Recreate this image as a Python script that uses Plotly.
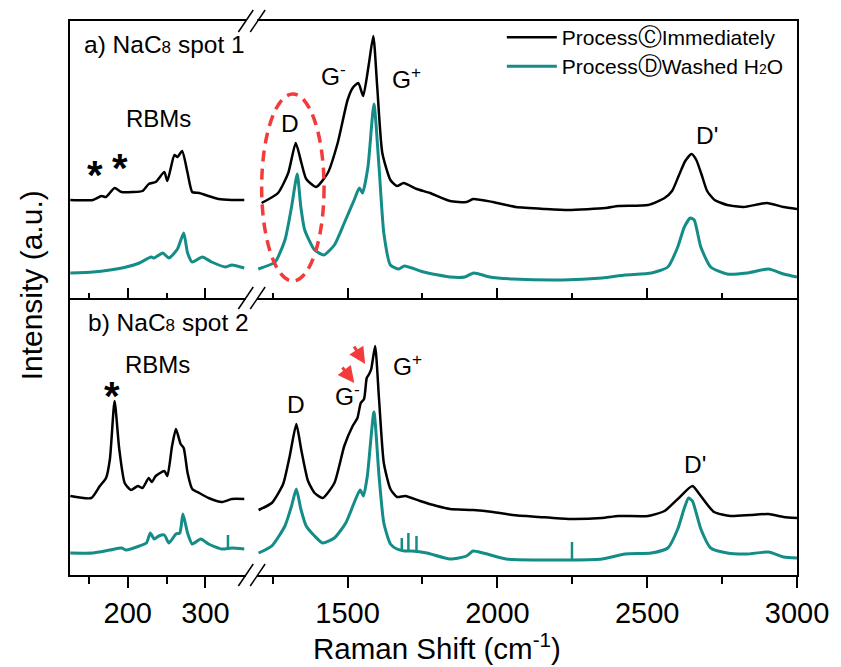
import plotly.graph_objects as go

# ---------------- data ----------------
# panel a, RBM window
a_rbm_k_x = [126, 155, 166, 172, 183, 192, 206, 219, 227, 236, 247, 251, 260, 264, 270, 277, 283, 292, 304, 317, 334, 350]
a_rbm_k_y = [98, 98, 102, 101, 110, 106, 106, 107, 114, 116, 126, 117, 143, 141, 147, 125, 106, 105, 102, 99, 98, 98]
a_rbm_t_x = [126, 155, 177, 198, 215, 230, 234, 245, 253, 264, 272, 277, 283, 296, 308, 326, 334, 350]
a_rbm_t_y = [25, 26, 28, 31, 35, 41, 40, 45, 40, 49, 65, 45, 36, 41, 36, 31, 33, 30]
# panel a, D/G/D' window
a_main_k_x = [1213, 1268, 1302, 1327, 1346, 1362, 1395, 1434, 1467, 1500, 1517, 1536, 1552, 1570, 1586, 1599, 1616,
              1643, 1665, 1687, 1731, 1775, 1842, 1897, 1919, 1985, 2062, 2161, 2238, 2360, 2404, 2503, 2558, 2583,
              2605, 2627, 2648, 2664, 2682, 2700, 2725, 2767, 2822, 2899, 2955, 3000]
a_main_k_y = [95, 105, 125, 155, 135, 119, 111, 125, 155, 198, 210, 215, 202, 232, 262, 211, 145,
              118, 112, 115, 109, 105, 97, 96, 99, 96, 91, 89, 88, 90, 92, 93, 100, 107,
              122, 137, 144, 138, 123, 107, 98, 93, 91, 95, 91, 89]
a_main_t_x = [1202, 1258, 1291, 1313, 1332, 1344, 1357, 1390, 1421, 1456, 1489, 1522, 1539, 1550, 1568, 1588, 1605,
              1621, 1643, 1671, 1690, 1754, 1842, 1891, 1921, 1974, 2051, 2216, 2349, 2426, 2514, 2569, 2602, 2624,
              2644, 2657, 2679, 2712, 2767, 2833, 2905, 2955, 3000]
a_main_t_y = [29, 36, 58, 91, 124, 91, 68, 48, 43, 53, 75, 98, 110, 105, 131, 194, 131,
              65, 33, 29, 32, 26, 21, 21, 25, 21, 19, 18, 20, 23, 25, 31, 51, 71,
              80, 78, 51, 31, 24, 25, 29, 24, 21]
# panel b, RBM window
b_rbm_k_x = [126, 153, 164, 172, 177, 183, 189, 196, 204, 213, 219, 227, 231, 236, 247, 251, 257, 262, 268, 272,
             277, 283, 292, 304, 321, 334, 350]
b_rbm_k_y = [79, 77, 89, 97, 116, 174, 126, 92, 85, 89, 87, 97, 93, 99, 104, 99, 129, 146, 131, 127,
             102, 86, 82, 77, 73, 76, 76]
b_rbm_t_x = [126, 155, 177, 192, 198, 215, 224, 229, 234, 240, 247, 253, 262, 267, 271, 277, 283, 294, 304, 321,
             334, 350]
b_rbm_t_y = [22, 22, 25, 27, 25, 29, 32, 42, 36, 39, 40, 32, 41, 42, 61, 42, 31, 36, 31, 26,
             27, 26]
# panel b, D/G/D' window
b_main_k_x = [1203, 1247, 1285, 1307, 1329, 1345, 1368, 1390, 1417, 1456, 1489, 1517, 1533, 1544, 1555, 1564, 1572,
              1579, 1592, 1605, 1621, 1643, 1665, 1693, 1742, 1798, 1842, 1919, 1985, 2051, 2139, 2238, 2349, 2404,
              2503, 2558, 2602, 2651, 2679, 2723, 2778, 2844, 2905, 2955, 3000]
b_main_k_y = [65, 72, 91, 119, 151, 126, 94, 82, 77, 92, 129, 149, 157, 172, 176, 197, 201,
              206, 229, 176, 112, 86, 78, 79, 74, 69, 66, 65, 63, 60, 58, 56, 57, 59,
              59, 64, 76, 89, 79, 63, 59, 60, 61, 58, 57]
b_main_t_x = [1203, 1247, 1291, 1313, 1329, 1344, 1362, 1390, 1417, 1456, 1494, 1527, 1542, 1553, 1566, 1588, 1605,
              1621, 1643, 1665, 1690, 1715, 1765, 1842, 1897, 1919, 1952, 2029, 2128, 2249, 2349, 2426, 2514,
              2569, 2602, 2624, 2638, 2651, 2679, 2712, 2767, 2833, 2905, 2955, 3000]
b_main_t_y = [22, 29, 49, 69, 86, 66, 49, 39, 32, 37, 52, 76, 85, 79, 99, 163, 99,
              52, 31, 26, 24, 24, 22, 16, 19, 24, 22, 16, 15, 15, 16, 21, 22,
              27, 46, 67, 77, 74, 46, 27, 22, 21, 23, 18, 17]
# narrow spikes on the washed spectrum of panel b
b_rbm_spike_x = [329]
b_rbm_spike_base = [26]
b_rbm_spike_top = [40]
b_main_spike_x = [1681, 1703, 1730, 2249]
b_main_spike_base = [25, 24, 23, 15]
b_main_spike_top = [37, 42, 39, 33]

CIRC = "<span style='font-size:24px'>{}</span>"
series_names = ["Process" + CIRC.format("\u24b8") + "Immediately",
                "Process" + CIRC.format("\u24b9") + "Washed H<span style='font-size:14px'>2</span>O"]
left_ticks = [200, 300]
left_minor = [150, 250]
right_ticks = [1500, 2000, 2500, 3000]
right_minor = [1250, 1750, 2250, 2750]
left_range = [125.6, 352.6]
right_range = [1198.4, 3000]

BLACK = "#000000"
TEAL = "#148c87"
RED = "#f23b3b"
FONT = "Liberation Sans, Arial, DejaVu Sans, sans-serif"

# ---------------- geometry helpers ----------------
W, H = 841, 667
PL, PR, PT, PB = 70, 804, 21, 575
SEP = 298


def fx(px):
    return (px - PL) / (PR - PL)


def fy(py):
    return (PB - py) / (PB - PT)


fig = go.Figure()


def add(xs, ys, xa, ya, color, width, name=None, show=False, legend="legend"):
    fig.add_trace(go.Scatter(x=xs, y=ys, xaxis=xa, yaxis=ya, mode="lines",
                             line=dict(color=color, width=width, shape="spline", smoothing=0.55),
                             name=name, showlegend=show, legend=legend, hoverinfo="skip"))


def add_spikes(xs, base, top, xa, ya, color, width):
    sx, sy = [], []
    for x, b, t in zip(xs, base, top):
        sx += [x, x, None]
        sy += [b, t, None]
    fig.add_trace(go.Scatter(x=sx, y=sy, xaxis=xa, yaxis=ya, mode="lines",
                             line=dict(color=color, width=width), showlegend=False, hoverinfo="skip"))


add(a_rbm_k_x, a_rbm_k_y, "x", "y", BLACK, 2.5)
add(a_rbm_t_x, a_rbm_t_y, "x", "y", TEAL, 3)
add(a_main_k_x, a_main_k_y, "x2", "y2", BLACK, 2.5, series_names[0], True, "legend")
add(a_main_t_x, a_main_t_y, "x2", "y2", TEAL, 3, series_names[1], True, "legend2")
add(b_rbm_k_x, b_rbm_k_y, "x3", "y3", BLACK, 2.5)
add(b_rbm_t_x, b_rbm_t_y, "x3", "y3", TEAL, 3)
add_spikes(b_rbm_spike_x, b_rbm_spike_base, b_rbm_spike_top, "x3", "y3", TEAL, 2.5)
add(b_main_k_x, b_main_k_y, "x4", "y4", BLACK, 2.5)
add(b_main_t_x, b_main_t_y, "x4", "y4", TEAL, 3)
add_spikes(b_main_spike_x, b_main_spike_base, b_main_spike_top, "x4", "y4", TEAL, 2.5)

dl = [0, fx(248)]
dr = [fx(259), 1]
top_dom = [fy(SEP), 1]
bot_dom = [0, fy(SEP)]

base_x = dict(showline=True, linecolor=BLACK, linewidth=2, showgrid=False, zeroline=False,
              tickcolor=BLACK, tickwidth=2, tickmode="array", ticklabelstandoff=0,
              tickfont=dict(family=FONT, size=29, color=BLACK))


def minor(kind, ln, vals):
    return dict(tickmode="array", tickvals=vals, ticks=kind, ticklen=ln, tickwidth=2, tickcolor=BLACK)


fig.update_layout(
    xaxis=dict(base_x, domain=dl, range=left_range, anchor="y", tickvals=left_ticks, showticklabels=False,
               ticks="inside", ticklen=10, mirror=True, minor=minor("inside", 5, left_minor)),
    xaxis2=dict(base_x, domain=dr, range=right_range, anchor="y2", tickvals=right_ticks, showticklabels=False,
                ticks="inside", ticklen=10, mirror=True, minor=minor("inside", 5, right_minor)),
    xaxis3=dict(base_x, domain=dl, range=left_range, anchor="y3", tickvals=left_ticks, showticklabels=True,
                ticks="outside", ticklen=11, mirror=False, minor=minor("outside", 7, left_minor)),
    xaxis4=dict(base_x, domain=dr, range=right_range, anchor="y4", tickvals=right_ticks, showticklabels=True,
                ticks="outside", ticklen=11, mirror=False, minor=minor("outside", 7, right_minor)),
    xaxis5=dict(base_x, overlaying="x3", range=left_range, anchor="y3", side="bottom", tickvals=left_ticks,
                showticklabels=False, showline=False, ticks="inside", ticklen=10, mirror="ticks",
                minor=minor("inside", 5, left_minor)),
    xaxis6=dict(base_x, overlaying="x4", range=right_range, anchor="y4", side="bottom", tickvals=right_ticks,
                showticklabels=False, showline=False, ticks="inside", ticklen=10, mirror="ticks",
                minor=minor("inside", 5, right_minor)),
    yaxis=dict(domain=top_dom, range=[0, 277], anchor="x", showline=True, linecolor=BLACK, linewidth=2,
               showticklabels=False, ticks="", showgrid=False, zeroline=False),
    yaxis2=dict(domain=top_dom, range=[0, 277], anchor="x2", side="right", showline=True, linecolor=BLACK,
                linewidth=2, showticklabels=False, ticks="", showgrid=False, zeroline=False),
    yaxis3=dict(domain=bot_dom, range=[0, 277], anchor="x3", showline=True, linecolor=BLACK, linewidth=2,
                showticklabels=False, ticks="", showgrid=False, zeroline=False),
    yaxis4=dict(domain=bot_dom, range=[0, 277], anchor="x4", side="right", showline=True, linecolor=BLACK,
                linewidth=2, showticklabels=False, ticks="", showgrid=False, zeroline=False),
)

# ---------------- annotations ----------------
ann = []


def txt(text, px, py, size=24, xanchor="center", yanchor="middle", **kw):
    ann.append(dict(text=text, x=fx(px), y=fy(py), xref="paper", yref="paper", showarrow=False,
                    xanchor=xanchor, yanchor=yanchor, font=dict(family=FONT, size=size, color=BLACK), **kw))


sub8 = "<span style='font-size:17px'>8</span>"
txt("a) NaC" + sub8 + " spot 1", 82, 44, 24.5, xanchor="left")
txt("b) NaC" + sub8 + " spot 2", 86, 322, 24.5, xanchor="left")
txt("RBMs", 159, 119, 24)
txt("RBMs", 158, 365, 24)
txt("D", 292, 124, 24.5)
txt("G<sup>-</sup>", 336, 74, 24.5)
txt("G<sup>+</sup>", 410, 77, 24.5)
txt("D'", 713, 135, 24.5)
txt("D", 298, 404, 24.5)
txt("G<sup>-</sup>", 350, 394, 24.5)
txt("G<sup>+</sup>", 411, 365, 24.5)
txt("D'", 701, 464, 24.5)
txt("<b>*</b>", 95.5, 175, 40)
txt("<b>*</b>", 120.5, 168, 40)
txt("<b>*</b>", 112.5, 396, 40)
txt("Intensity (a.u.)", 31, 285, 30, textangle=-90)
txt("Raman Shift (cm<sup>-1</sup>)", 441, 646, 29.5)

# red arrows
for tipx, tipy, tailx, taily in [(357, 383, 344, 366), (368, 364, 356, 345)]:
    ann.append(dict(x=fx(tipx), y=fy(tipy), xref="paper", yref="paper", ax=tailx - tipx, ay=taily - tipy,
                    axref="pixel", ayref="pixel", showarrow=True, arrowhead=2, arrowsize=1.1,
                    arrowwidth=3, arrowcolor=RED, text=""))

fig.update_layout(annotations=ann)

# ---------------- shapes: break marks and dashed ellipse ----------------
shapes = []
for yy in (PT, SEP, PB):
    shapes.append(dict(type="rect", xref="paper", yref="paper", x0=fx(248), x1=fx(259),
                       y0=fy(yy + 3), y1=fy(yy - 3), fillcolor="white", line=dict(width=0), layer="above"))
    for x0 in (240, 252):
        shapes.append(dict(type="line", xref="paper", yref="paper", x0=fx(x0), y0=fy(yy + 11),
                           x1=fx(x0 + 15), y1=fy(yy - 11), line=dict(color=BLACK, width=1.5), layer="above"))
shapes.append(dict(type="circle", xref="paper", yref="paper", x0=fx(263.5), x1=fx(326.5), y0=fy(281), y1=fy(94),
                   line=dict(color=RED, width=3.5, dash="11px,7px"), layer="above"))
fig.update_layout(shapes=shapes)

leg_common = dict(xanchor="left", yanchor="top", bgcolor="rgba(0,0,0,0)",
                  font=dict(family=FONT, size=21, color=BLACK), itemwidth=50, tracegroupgap=0)
fig.update_layout(
    width=W, height=H, margin=dict(l=PL, r=W - PR, t=PT, b=H - PB),
    paper_bgcolor="white", plot_bgcolor="white",
    legend=dict(leg_common, x=fx(506), y=fy(17)),
    legend2=dict(leg_common, x=fx(506), y=fy(46)),
    showlegend=True,
)

fig.write_html("out.html")
